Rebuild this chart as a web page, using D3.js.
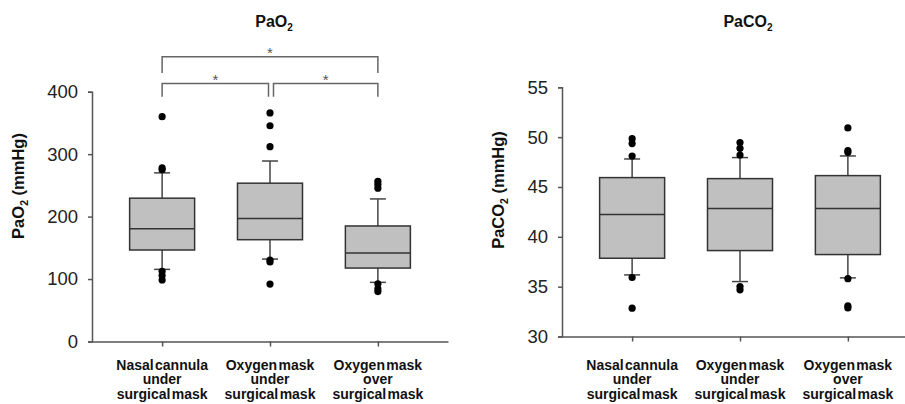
<!DOCTYPE html>
<html>
<head>
<meta charset="utf-8">
<script src="https://cdn.jsdelivr.net/npm/d3@7"></script>
<style>
  html, body { margin: 0; padding: 0; background: #fff; }
  svg { display: block; }
  text { font-family: Arial, "Liberation Sans", sans-serif; }
</style>
</head>
<body>
<svg id="chart" width="905" height="404"></svg>
<script>
// ---------- DATA ----------
const categories = [
  ["Nasal cannula", "under", "surgical mask"],
  ["Oxygen mask", "under", "surgical mask"],
  ["Oxygen mask", "over", "surgical mask"]
];

const pao2Ticks = [0, 100, 200, 300, 400];
const pao2Q1 = [146.5, 163, 117.6];
const pao2Median = [180.5, 197, 141.7];
const pao2Q3 = [229.5, 253.5, 185];
const pao2WhiskerLow = [115.5, 132, 94.7];
const pao2WhiskerHigh = [270, 289, 228.3];
const pao2Outliers = [
  [360, 278, 275, 112.5, 105.5, 98.5],
  [366, 345.5, 312, 130.5, 127.5, 92],
  [256.5, 251.5, 245.5, 92.5, 84.5, 80]
];
// significance brackets: [from, to, label, level]
const pao2Brackets = [[0, 2, "*", 1], [0, 1, "*", 0], [1, 2, "*", 0]];

const paco2Ticks = [30, 35, 40, 45, 50, 55];
const paco2Q1 = [37.85, 38.62, 38.22];
const paco2Median = [42.23, 42.83, 42.83];
const paco2Q3 = [45.94, 45.84, 46.14];
const paco2WhiskerLow = [36.18, 35.51, 35.88];
const paco2WhiskerHigh = [47.81, 47.95, 48.11];
const paco2Outliers = [
  [49.85, 49.35, 48.11, 35.92, 32.84],
  [49.45, 48.88, 48.21, 35.01, 34.68],
  [50.92, 48.65, 48.48, 35.8, 33.07, 32.87]
];

// ---------- DRAW ----------
const svg = d3.select("#chart");
const AXIS = "#555";
const BOXSTROKE = "#333";
const FILL = "#c0c0c0";

function panel(opts) {
  const g = svg.append("g");
  const x = d3.scalePoint().domain(d3.range(categories.length))
    .range([opts.x0, opts.x0 + 356]).padding(0.65);
  const y = d3.scaleLinear().domain(opts.domain).range([opts.yBottom, opts.yTop]);
  const bw = 65;

  // y axis
  const yAxis = g.append("g").attr("transform", `translate(${opts.x0},0)`)
    .call(d3.axisLeft(y).tickValues(opts.ticks).tickSize(4).tickPadding(10).tickFormat(d3.format("d")));
  yAxis.select(".domain").attr("stroke", AXIS).attr("stroke-width", 1.5);
  yAxis.selectAll(".tick line").attr("stroke", AXIS).attr("stroke-width", 1.5);
  yAxis.selectAll(".tick text").attr("font-size", 18.5).attr("fill", "#222")
    .attr("font-family", "Arial, 'Liberation Sans', sans-serif");

  // x axis
  const xAxis = g.append("g").attr("transform", `translate(0,${opts.yBottom})`)
    .call(d3.axisBottom(x).tickSize(5).tickSizeOuter(0).tickFormat(""));
  xAxis.select(".domain").attr("stroke", AXIS).attr("stroke-width", 1.5);
  xAxis.selectAll(".tick line").attr("stroke", AXIS).attr("stroke-width", 1.5);

  // category labels
  categories.forEach((lines, i) => {
    const t = g.append("text").attr("x", x(i)).attr("y", 369.5)
      .attr("text-anchor", "middle").attr("font-weight", "bold")
      .attr("font-size", 14).attr("fill", "#111").attr("word-spacing", "-2.5px");
    lines.forEach((ln, j) => {
      t.append("tspan").attr("x", x(i)).attr("dy", j === 0 ? 0 : 14.5).text(ln);
    });
  });

  // boxes
  categories.forEach((c, i) => {
    const cx = x(i);
    const lo = opts.wl[i], hi = opts.wh[i];
    // whiskers
    g.append("line").attr("x1", cx).attr("x2", cx).attr("y1", y(hi)).attr("y2", y(opts.q3[i]))
      .attr("stroke", "#444").attr("stroke-width", 1.5);
    g.append("line").attr("x1", cx).attr("x2", cx).attr("y1", y(opts.q1[i])).attr("y2", y(lo))
      .attr("stroke", "#444").attr("stroke-width", 1.5);
    [lo, hi].forEach(v => {
      g.append("line").attr("x1", cx - 8).attr("x2", cx + 8).attr("y1", y(v)).attr("y2", y(v))
        .attr("stroke", "#444").attr("stroke-width", 1.5);
    });
    g.append("rect").attr("x", cx - bw / 2).attr("width", bw)
      .attr("y", y(opts.q3[i])).attr("height", y(opts.q1[i]) - y(opts.q3[i]))
      .attr("fill", FILL).attr("stroke", BOXSTROKE).attr("stroke-width", 1.5);
    g.append("line").attr("x1", cx - bw / 2).attr("x2", cx + bw / 2)
      .attr("y1", y(opts.med[i])).attr("y2", y(opts.med[i]))
      .attr("stroke", BOXSTROKE).attr("stroke-width", 1.5);
    opts.out[i].forEach(v => {
      g.append("circle").attr("cx", cx).attr("cy", y(v)).attr("r", 3.6).attr("fill", "#000");
    });
  });

  // y label
  const yl = g.append("text")
    .attr("transform", `translate(${opts.ylx},${opts.yly}) rotate(-90)`)
    .attr("text-anchor", "middle").attr("font-weight", "bold").attr("font-size", 16.5).attr("fill", "#111");
  yl.append("tspan").text(opts.ylabelMain);
  yl.append("tspan").attr("font-size", 10.5).attr("dy", 4).text("2");
  yl.append("tspan").attr("dy", -4).text(" (mmHg)");

  // title
  const tt = g.append("text").attr("x", opts.titleX).attr("y", 27)
    .attr("text-anchor", "middle").attr("font-weight", "bold").attr("font-size", 16).attr("fill", "#111");
  tt.append("tspan").text(opts.ylabelMain);
  tt.append("tspan").attr("font-size", 10).attr("dy", 4).text("2");

  return { x, y, g };
}

const left = panel({
  x0: 92, yBottom: 341.5, yTop: 91.7, domain: [0, 400], ticks: pao2Ticks,
  q1: pao2Q1, med: pao2Median, q3: pao2Q3, wl: pao2WhiskerLow, wh: pao2WhiskerHigh, out: pao2Outliers,
  ylabelMain: "PaO", ylx: 24, yly: 186, titleX: 274
});

const right = panel({
  x0: 562, yBottom: 336.5, yTop: 87.3, domain: [30, 55], ticks: paco2Ticks,
  q1: paco2Q1, med: paco2Median, q3: paco2Q3, wl: paco2WhiskerLow, wh: paco2WhiskerHigh, out: paco2Outliers,
  ylabelMain: "PaCO", ylx: 504, yly: 190, titleX: 748
});

// significance brackets (left panel)
const bracketTop = [413, 456];   // bracket bar level in data units
const bracketLeg = [392, 430];   // leg bottom in data units
pao2Brackets.forEach(([a, b, lab, lvl]) => {
  const xa = left.x(a) + (lvl === 0 && a === 1 ? 3.5 : 0);
  const xb = left.x(b) - (lvl === 0 && b === 1 ? 1.5 : 0);
  const yb = left.y(bracketTop[lvl]), yl = left.y(bracketLeg[lvl]);
  left.g.append("path")
    .attr("d", `M${xa},${yl}V${yb}H${xb}V${yl}`)
    .attr("fill", "none").attr("stroke", "#666").attr("stroke-width", 1.5);
  left.g.append("text").attr("x", (xa + xb) / 2).attr("y", yb + 1)
    .attr("text-anchor", "middle").attr("font-size", 15).attr("fill", "#555").text(lab);
});
</script>
</body>
</html>
